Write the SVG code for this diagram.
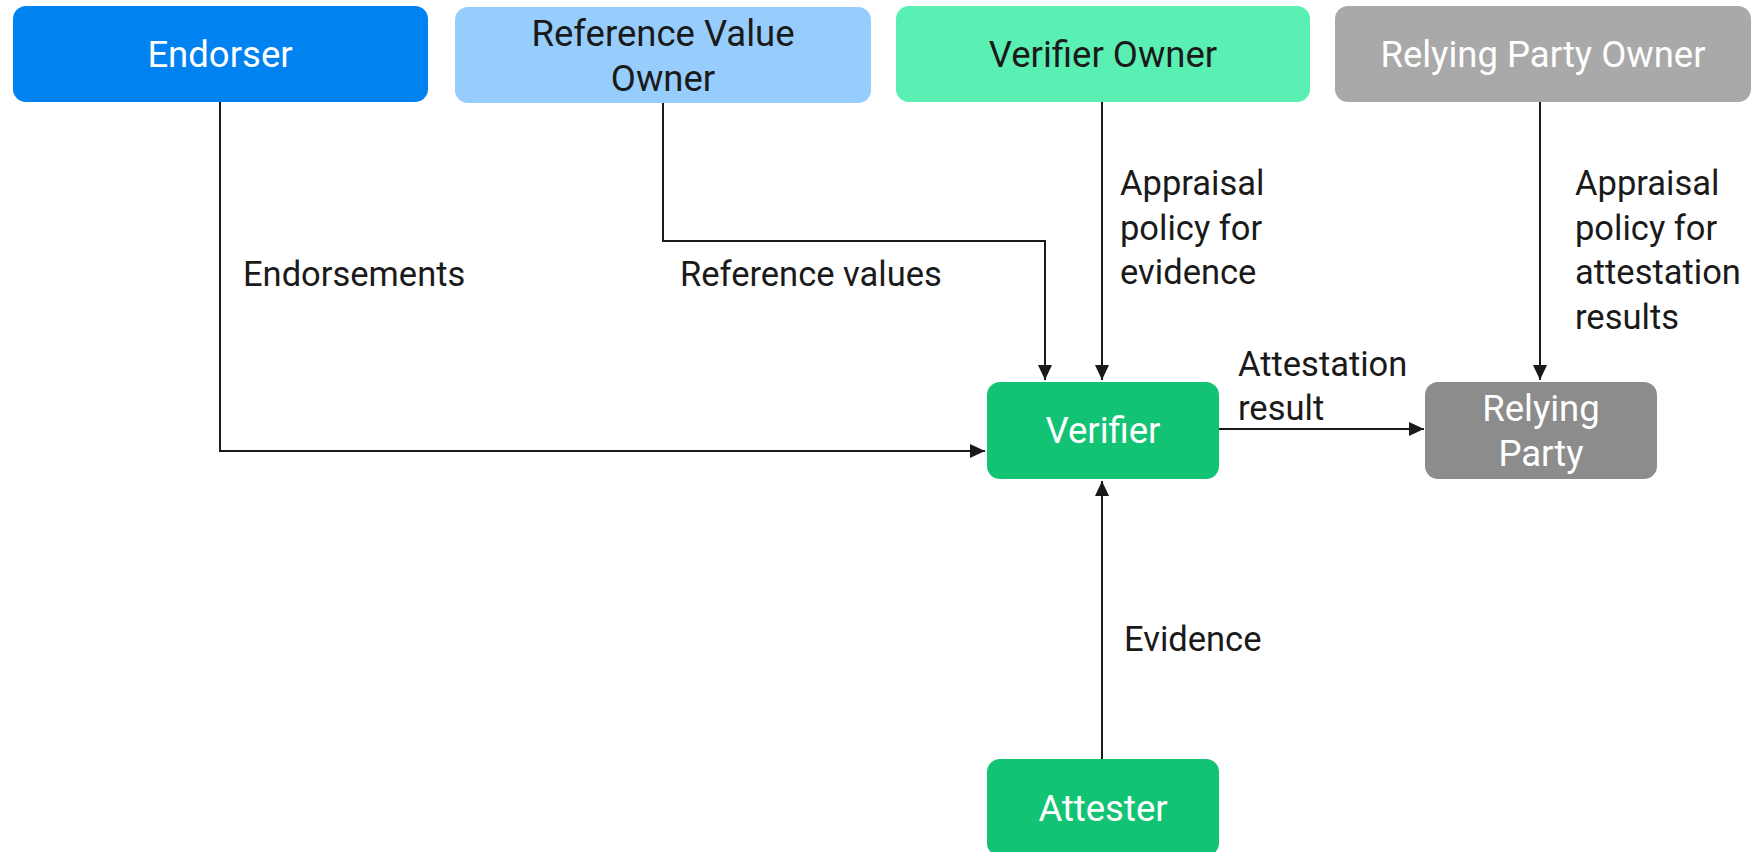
<svg xmlns="http://www.w3.org/2000/svg" width="1762" height="852" viewBox="0 0 1762 852">
  <style>
    .lbl { font-family: Roboto, "Liberation Sans", sans-serif; font-size: 34.5px; }
    .box { font-size: 36.5px; }
    .dark { fill: #1a1a1a; }
    .light { fill: #ffffff; }
    .mid { text-anchor: middle; }
    .wire { fill: none; stroke: #1a1a1a; stroke-width: 2; }
  </style>
  <defs>
    <marker id="arrow" markerUnits="userSpaceOnUse" markerWidth="16" markerHeight="14" refX="15" refY="7" orient="auto">
      <path d="M0,0 L15,7 L0,14 Z" fill="#1a1a1a"/>
    </marker>
  </defs>
  <rect width="1762" height="852" fill="#ffffff"/>

  <!-- connectors -->
  <g id="connectors">
    <path class="wire" d="M220,102 V451 H985" marker-end="url(#arrow)"/>
    <path class="wire" d="M663,103 V241 H1045 V380" marker-end="url(#arrow)"/>
    <path class="wire" d="M1102,102 V380" marker-end="url(#arrow)"/>
    <path class="wire" d="M1540,102 V380" marker-end="url(#arrow)"/>
    <path class="wire" d="M1219,429 H1424" marker-end="url(#arrow)"/>
    <path class="wire" d="M1102,760 V481" marker-end="url(#arrow)"/>
  </g>

  <!-- edge labels -->
  <g id="edge-labels" class="lbl dark">
    <text x="243" y="286">Endorsements</text>
    <text x="680" y="286">Reference values</text>
    <text x="1120" y="195">Appraisal</text>
    <text x="1120" y="240">policy for</text>
    <text x="1120" y="284">evidence</text>
    <text x="1575" y="195">Appraisal</text>
    <text x="1575" y="240">policy for</text>
    <text x="1575" y="284">attestation</text>
    <text x="1575" y="329">results</text>
    <text x="1238" y="376">Attestation</text>
    <text x="1238" y="420">result</text>
    <text x="1124" y="651">Evidence</text>
  </g>

  <g id="endorser">
    <rect x="13" y="6" width="415" height="96" rx="13" fill="#0082f0"/>
    <text class="lbl box light mid" x="220" y="67">Endorser</text>
  </g>

  <g id="reference-value-owner">
    <rect x="455" y="7" width="416" height="96" rx="13" fill="#96cdfd"/>
    <text class="lbl box dark mid" x="663" y="46">Reference Value</text>
    <text class="lbl box dark mid" x="663" y="91">Owner</text>
  </g>

  <g id="verifier-owner">
    <rect x="896" y="6" width="414" height="96" rx="13" fill="#5af0b4"/>
    <text class="lbl box dark mid" x="1103" y="67">Verifier Owner</text>
  </g>

  <g id="relying-party-owner">
    <rect x="1335" y="6" width="416" height="96" rx="13" fill="#a9a9a9"/>
    <text class="lbl box light mid" x="1543" y="67">Relying Party Owner</text>
  </g>

  <g id="verifier">
    <rect x="987" y="382" width="232" height="97" rx="13" fill="#12c374"/>
    <text class="lbl box light mid" x="1103" y="443">Verifier</text>
  </g>

  <g id="relying-party">
    <rect x="1425" y="382" width="232" height="97" rx="13" fill="#8c8c8c"/>
    <text class="lbl box light mid" x="1541" y="421">Relying</text>
    <text class="lbl box light mid" x="1541" y="466">Party</text>
  </g>

  <g id="attester">
    <rect x="987" y="759" width="232" height="97" rx="13" fill="#12c374"/>
    <text class="lbl box light mid" x="1103" y="821">Attester</text>
  </g>
</svg>
